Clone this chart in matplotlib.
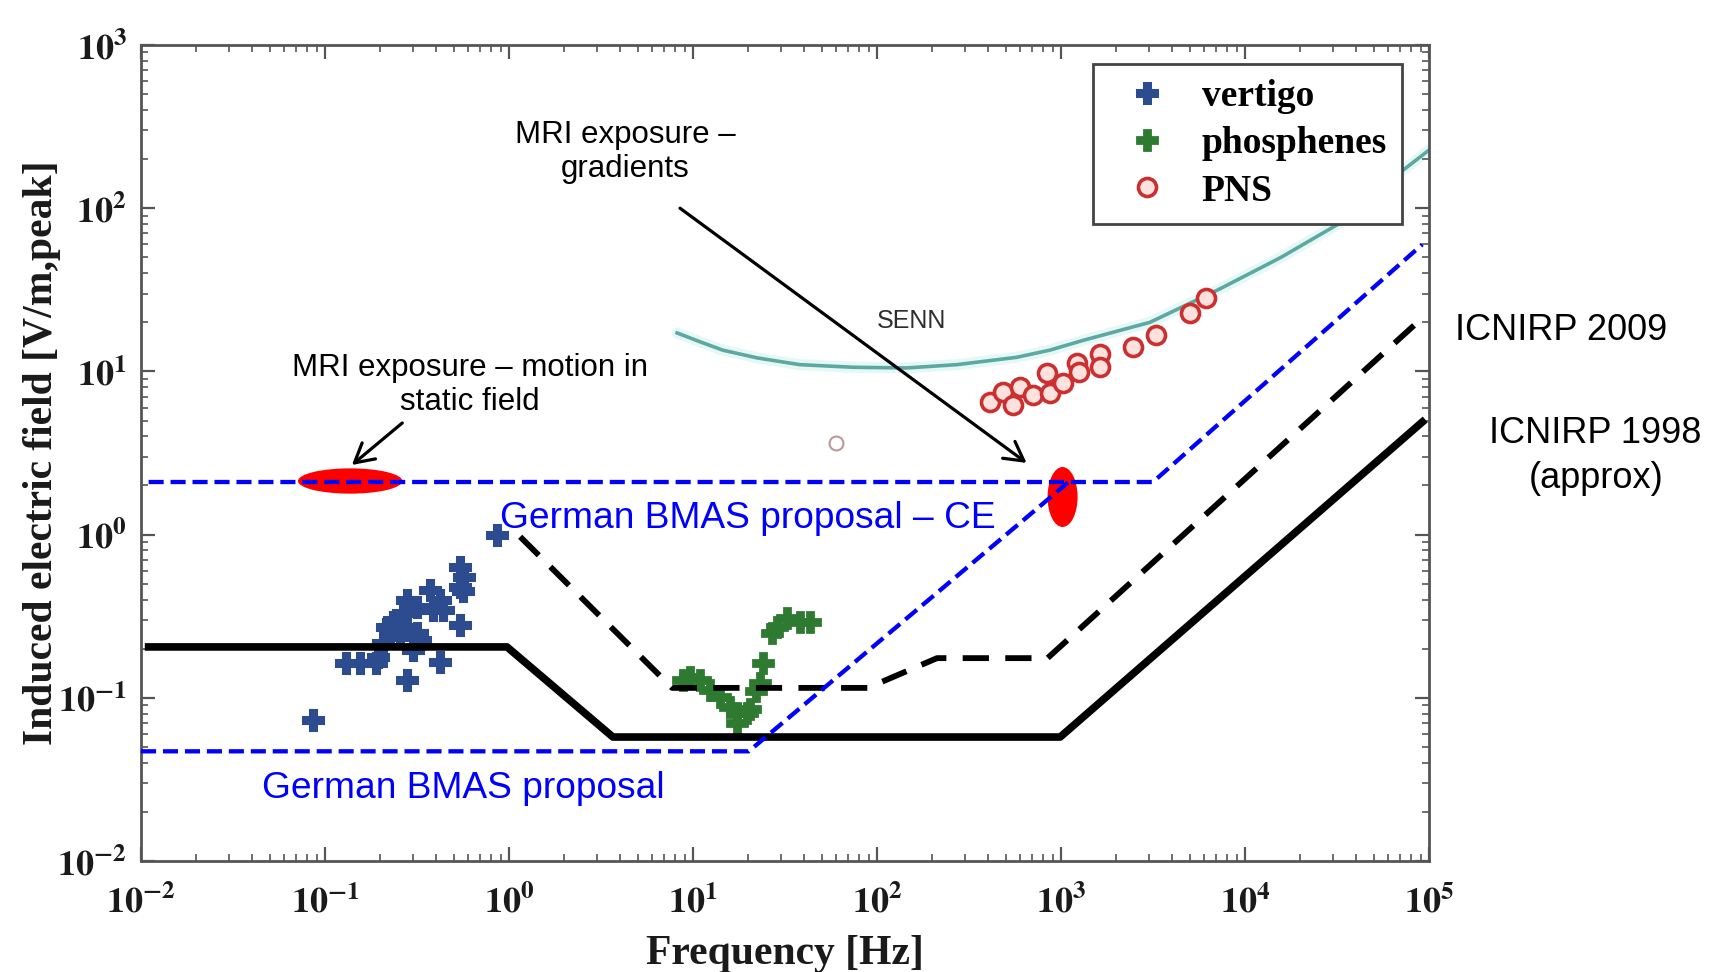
import matplotlib
matplotlib.use('Agg')
from matplotlib import pyplot as plt
from matplotlib.patches import Ellipse
from matplotlib.ticker import LogLocator, NullFormatter

plt.rcParams['mathtext.fontset'] = 'stix'

# limits
icnirp98_f = [0.011, 0.975, 3.67, 990, 92000]
icnirp98_e = [0.205, 0.205, 0.0575, 0.0575, 4.9]

icnirp09_f = [1.15, 7.7, 89, 212, 845, 95000]
icnirp09_e = [0.97, 0.115, 0.115, 0.175, 0.175, 22]

bmas_ce_f = [0.011, 3160, 92000]
bmas_ce_e = [2.1, 2.1, 60]

bmas_f = [0.01, 20.1, 1100]
bmas_e = [0.047, 0.047, 2.1]

senn_f = [8.2, 10.9, 14.5, 22.3, 38, 74, 145, 272, 575, 870, 1320, 3050, 7130, 15700,
          32800, 52000, 72300, 100000]
senn_e = [17.2, 15.2, 13.5, 12.1, 11.0, 10.6, 10.5, 11.0, 12.2, 13.5, 15.5, 20, 31.6, 50,
          81, 129, 171, 227]

# thresholds
vertigo_f = [0.086, 0.86, 0.54, 0.57, 0.54, 0.56, 0.54, 0.42, 0.28, 0.13, 0.155, 0.19,
             0.195, 0.372, 0.42, 0.386, 0.316, 0.265, 0.234, 0.217, 0.28, 0.316, 0.256,
             0.206, 0.30, 0.436, 0.33, 0.28]
vertigo_e = [0.073, 1.0, 0.63, 0.55, 0.48, 0.45, 0.28, 0.166, 0.129, 0.163, 0.163, 0.163,
             0.178, 0.457, 0.40, 0.345, 0.36, 0.33, 0.29, 0.27, 0.27, 0.25, 0.236,
             0.217, 0.196, 0.345, 0.226, 0.40]

phos_f = [8.8, 9.6, 10.9, 12.4, 14.0, 15.9, 17.4, 19.6, 17.4, 20.5, 23.1, 24, 27, 28.6,
          32.4, 38, 43, 22]
phos_e = [0.129, 0.134, 0.129, 0.112, 0.101, 0.088, 0.081, 0.081, 0.070, 0.085, 0.123,
          0.163, 0.25, 0.27, 0.31, 0.29, 0.29, 0.11]

pns_f = [411, 484, 550, 599, 707, 840, 870, 1025, 1220, 1250, 1620, 1620, 2460, 3300,
         5000, 6170]
pns_e = [6.5, 7.5, 6.2, 8.0, 7.2, 9.8, 7.4, 8.5, 11.3, 9.9, 12.8, 10.7, 14.2, 16.8,
         22.8, 28.2]
pns_extra_f = [60]
pns_extra_e = [3.64]

xtick_vals = [1e-2, 1e-1, 1e0, 1e1, 1e2, 1e3, 1e4, 1e5]
xtick_labels = [r'$\mathbf{10^{-2}}$', r'$\mathbf{10^{-1}}$', r'$\mathbf{10^{0}}$',
                r'$\mathbf{10^{1}}$', r'$\mathbf{10^{2}}$', r'$\mathbf{10^{3}}$',
                r'$\mathbf{10^{4}}$', r'$\mathbf{10^{5}}$']
ytick_vals = [1e-2, 1e-1, 1e0, 1e1, 1e2, 1e3]
ytick_labels = [r'$\mathbf{10^{-2}}$', r'$\mathbf{10^{-1}}$', r'$\mathbf{10^{0}}$',
                r'$\mathbf{10^{1}}$', r'$\mathbf{10^{2}}$', r'$\mathbf{10^{3}}$']

W, H = 1709, 972
fig = plt.figure(figsize=(W / 100, H / 100), dpi=100)
ax = fig.add_axes([141 / W, 1 - 861 / H, 1288 / W, 816 / H])
ax.set_xscale('log')
ax.set_yscale('log')
ax.set_xlim(1e-2, 1e5)
ax.set_ylim(1e-2, 1e3)

# SENN curve with soft halo
ax.plot(senn_f, senn_e, color='#e6f8f6', lw=8, solid_capstyle='round', zorder=1)
ax.plot(senn_f, senn_e, color='#5da9a2', lw=2.6, zorder=1.5)

ax.plot(vertigo_f, vertigo_e, ls='none', marker='P', ms=15, mew=2.2, color='#2d4c90',
        label='vertigo', zorder=2)
ax.plot(phos_f, phos_e, ls='none', marker='P', ms=14, mew=2.0, color='#2d7a30',
        label='phosphenes', zorder=2)
ax.plot(pns_f, pns_e, ls='none', marker='o', ms=13, mfc='#ffe2de', mec='#cc2f2f',
        mew=2.6, label='PNS', zorder=2)
ax.plot(pns_extra_f, pns_extra_e, ls='none', marker='o', ms=10, mfc='none',
        mec='#b89a9a', mew=1.5, zorder=2)

# red exposure ellipses (centre in data, size in axes fraction)
def to_axes(f, e):
    return ax.transAxes.inverted().transform(ax.transData.transform((f, e)))

ax.add_patch(Ellipse(to_axes(0.137, 2.13), 0.081, 0.031, transform=ax.transAxes,
                     facecolor='#ff0000', edgecolor='none', zorder=2.5))
ax.add_patch(Ellipse(to_axes(1020, 1.70), 0.0233, 0.0735, transform=ax.transAxes,
                     facecolor='#ff0000', edgecolor='none', zorder=2.5))

ax.plot(icnirp98_f, icnirp98_e, color='black', lw=5.5, zorder=4)
ax.plot(icnirp09_f, icnirp09_e, color='black', lw=4.2, dashes=(4.5, 2.8), zorder=4)
ax.plot(bmas_ce_f, bmas_ce_e, color='#0000ff', lw=3.1, dashes=(3.5, 1.6), zorder=5)
ax.plot(bmas_f, bmas_e, color='#0000ff', lw=3.1, dashes=(3.5, 1.6), zorder=5)

arrow = dict(arrowstyle='->,head_length=0.45,head_width=0.25', color='black', lw=2.3,
             shrinkA=0, shrinkB=0, mutation_scale=30)
ax.annotate('', xy=(0.14, 2.67), xytext=(0.263, 4.83), arrowprops=arrow, zorder=6)
ax.annotate('', xy=(650, 2.75), xytext=(8.5, 100), arrowprops=arrow, zorder=6)

# axes styling
ax.set_xticks(xtick_vals, labels=xtick_labels)
ax.set_yticks(ytick_vals, labels=ytick_labels)
for axis in (ax.xaxis, ax.yaxis):
    axis.set_minor_locator(LogLocator(base=10, subs=range(2, 10), numticks=100))
    axis.set_minor_formatter(NullFormatter())
ax.tick_params(which='both', direction='in', top=True, right=True, color='#555555',
               labelcolor='#1a1a1a', labelsize=26)
ax.tick_params(which='major', length=10, width=1.6, pad=10)
ax.tick_params(axis='x', which='major', pad=17)
ax.tick_params(which='minor', length=5, width=1.2)
for s in ax.spines.values():
    s.set_color('#555555')
    s.set_linewidth(2)

serif = dict(family='Liberation Serif', weight='bold', size=30, color='#1a1a1a')
ax.set_xlabel('Frequency [Hz]', **serif)
ax.xaxis.set_label_coords(0.5, -0.091)
ax.set_ylabel('Induced electric field [V/m,peak]', **serif)
ax.yaxis.set_label_coords(-0.062, 0.5)

leg = ax.legend(loc='upper right', bbox_to_anchor=(0.979, 0.977), borderaxespad=0,
                numpoints=1, handlelength=2.1, handletextpad=0.4, borderpad=0.4,
                labelspacing=0.33, fancybox=False, framealpha=1,
                prop=dict(family='Liberation Serif', weight='bold', size=27))
leg.get_frame().set_edgecolor('#444444')
leg.get_frame().set_linewidth(2)
leg.set_zorder(10)

# annotations (figure pixel positions)
def fx(x):
    return x / W

def fy(y):
    return 1 - y / H

sans = 'Liberation Sans'
fig.text(fx(625), fy(152), 'MRI exposure \u2013\ngradients', ha='center', va='center',
         multialignment='center', family=sans, size=22.5)
fig.text(fx(470), fy(385), 'MRI exposure \u2013 motion in\nstatic field', ha='center',
         va='center', multialignment='center', family=sans, size=22.5)
fig.text(fx(912), fy(321), 'SENN', ha='center', va='center', family=sans, size=18,
         color='#2e2e2e')
fig.text(fx(500), fy(528), 'German BMAS proposal \u2013 CE', ha='left', va='baseline',
         family=sans, size=26.7, color='#0000ff')
fig.text(fx(262), fy(798), 'German BMAS proposal', ha='left', va='baseline',
         family=sans, size=26.7, color='#0000ff')
fig.text(fx(1455), fy(340), 'ICNIRP 2009', ha='left', va='baseline', family=sans, size=26)
fig.text(fx(1595), fy(443), 'ICNIRP 1998', ha='center', va='baseline', family=sans, size=26)
fig.text(fx(1596), fy(488), '(approx)', ha='center', va='baseline', family=sans, size=26)

fig.savefig('out.png', dpi=100, facecolor='white')
